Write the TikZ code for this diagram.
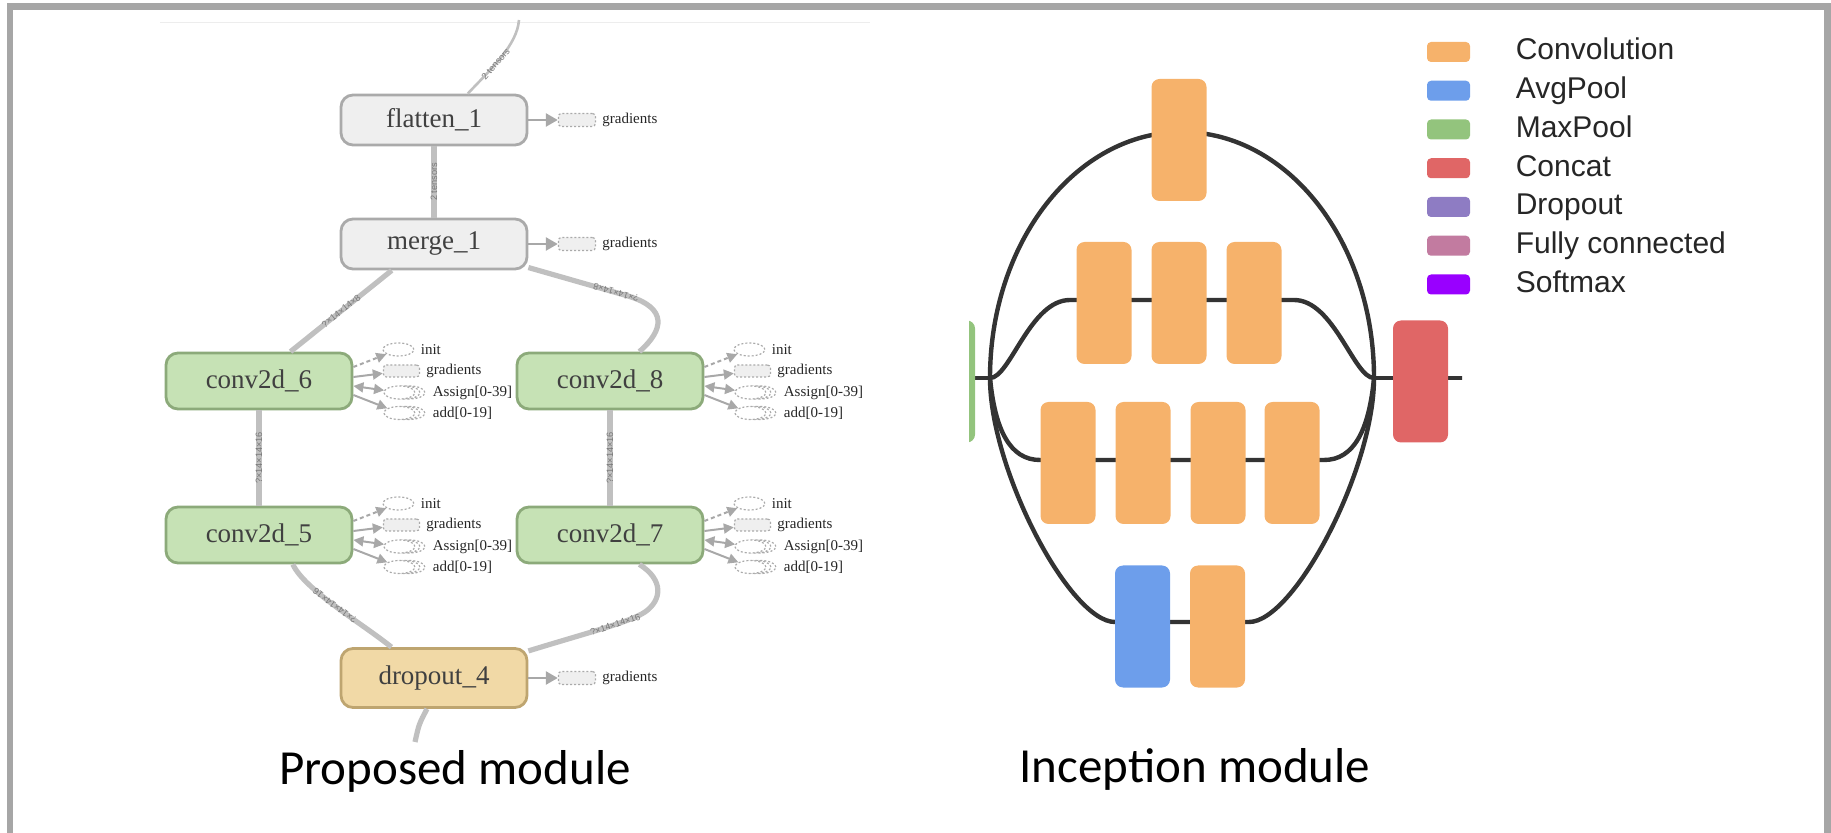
\documentclass[tikz,border=0pt]{standalone}
\usepackage{fontspec}
\setmainfont{Liberation Serif}
\newfontfamily\capfont{Carlito}
\newfontfamily\legfont{Liberation Sans}
\usetikzlibrary{arrows.meta,shapes.geometric}

\definecolor{framegray}{RGB}{166,166,166}
\definecolor{edgegray}{RGB}{192,192,192}
\definecolor{labgray}{RGB}{120,120,120}
\definecolor{arrgray}{RGB}{168,168,168}
\definecolor{opfill}{RGB}{239,239,239}
\definecolor{opdraw}{RGB}{170,170,170}
\definecolor{convfill}{RGB}{198,226,181}
\definecolor{convdraw}{RGB}{140,170,122}
\definecolor{dropfill}{RGB}{241,217,166}
\definecolor{dropdraw}{RGB}{190,165,112}
\definecolor{ttext}{RGB}{64,64,64}
\definecolor{incconv}{RGB}{246,178,107}
\definecolor{incavg}{RGB}{109,158,235}
\definecolor{incmax}{RGB}{147,196,125}
\definecolor{inccat}{RGB}{224,102,102}
\definecolor{incdrop}{RGB}{142,124,195}
\definecolor{incfc}{RGB}{194,123,160}
\definecolor{incsoft}{RGB}{153,0,255}

\begin{document}
\begin{tikzpicture}[x=0.5pt,y=-0.5pt,
    op/.style={draw=opdraw, fill=opfill, line width=1.4pt, rounded corners=6pt,
        minimum width=93pt, minimum height=25pt, inner sep=0pt, text=ttext,
        font=\fontsize{13.5}{16}\selectfont},
    conv/.style={op, draw=convdraw, fill=convfill, minimum height=28pt},
    drop/.style={op, draw=dropdraw, fill=dropfill, minimum height=29.5pt},
    flow/.style={draw=edgegray, line width=2.6pt},
    elab/.style={font=\legfont\fontsize{4.6}{5}\selectfont, text=labgray,
        inner sep=0pt, sloped, allow upside down},
    gbox/.style={draw=opdraw, fill=opfill, line width=0.6pt, dash pattern=on 1pt off 1pt,
        rounded corners=1.5pt, minimum width=18.5pt, minimum height=6.5pt, inner sep=0pt},
    sideell/.style={ellipse, draw=opdraw, fill=white, line width=0.6pt,
        dash pattern=on 1pt off 1pt, minimum width=15.5pt, minimum height=6.5pt, inner sep=0pt},
    sidearr/.style={draw=arrgray, line width=1pt, -{Triangle[length=5pt,width=5pt]}},
    stext/.style={anchor=west, inner sep=0pt, text=black!85, font=\fontsize{7.5}{9}\selectfont},
    incline/.style={draw=black!80, line width=2.2pt},
    incblock/.style={rounded corners=4pt, minimum width=27.5pt, minimum height=61pt, inner sep=0pt},
    legbox/.style={rounded corners=2pt, minimum width=21.5pt, minimum height=10pt, inner sep=0pt},
    legtext/.style={anchor=base west, inner sep=0pt, text=black!85,
        font=\legfont\fontsize{15}{18}\selectfont},
    capt/.style={anchor=base, inner sep=0pt, font=\capfont\fontsize{24.5}{29}\selectfont}
  ]
  \useasboundingbox (0,0) rectangle (1831,833);
  \clip (0,0) rectangle (1831,833);
  \draw[framegray, line width=3.4pt] (10,6.5) rectangle (1827.5,836.5);

  % graph view
  \draw[black!7, line width=0.5pt] (160,23) -- (870,23);

  \node[op] (f1) at (434,120) {flatten\_1};
  \node[op] (m1) at (434,244) {merge\_1};
  \node[conv] (c6) at (259,381) {conv2d\_6};
  \node[conv] (c8) at (610,381) {conv2d\_8};
  \node[conv] (c5) at (259,535) {conv2d\_5};
  \node[conv] (c7) at (610,535) {conv2d\_7};
  \node[drop] (d4) at (434,678) {dropout\_4};

  \coordinate (gin) at (415,742);
  \coordinate (gout) at (519,20);

  \draw[flow] (gin) .. controls (419,724) .. ([xshift=-3.5pt]d4.south);
  \draw[flow] (d4.144) .. controls (360,622) and (305,590) .. (c5.-41)
      node[elab, pos=.5] {?×14×14×16};
  \draw[flow] (d4.16) .. controls (590,632) and (630,622) .. (645,612)
      node[elab, pos=.6] {?×14×14×16}
      .. controls (662,600) and (664,580) .. (c7.-45);
  \draw[flow] (c5) -- (c6) node[elab, midway] {?×14×14×16};
  \draw[flow] (c7) -- (c8) node[elab, midway] {?×14×14×16};
  \draw[flow] (c6.43) -- (m1.-148) node[elab, midway] {?×14×14×8};
  \draw[flow] (c8.45) .. controls (664,330) and (668,308) .. (628,296) -- (m1.-14)
      node[elab, pos=.12] {?×14×14×8};
  \draw[flow, line width=3pt] (m1) -- (f1) node[elab, midway] {2 tensors};
  \draw[flow, line width=1.3pt] (f1.38) .. controls (492,68) and (517,45) .. (gout)
      node[elab, pos=.4] {2 tensors};

  % gradients only
  \foreach \n in {f1,m1,d4} {
    \node[gbox] (\n-g) at ([xshift=24.25pt]\n.east) {};
    \draw[sidearr, line width=1.3pt, -{Triangle[length=6pt,width=6.5pt]}] (\n.east) -- (\n-g);
    \node[stext] (\n-gt) at ([xshift=3pt]\n-g.east) {gradients};
  }

  % init, gradients, Assign, add
  \foreach \n in {c5,c6,c7,c8} {
    \node[sideell] (\n-i) at ([xshift=22.5pt,yshift=15.75pt]\n.east) {};
    \node[stext] (\n-it) at ([xshift=3pt]\n-i.east) {init};
    \draw[sidearr, dash pattern=on 2pt off 1.5pt] ([yshift=7pt]\n.east) -- (\n-i);

    \node[gbox, minimum width=18pt, minimum height=6pt] (\n-g) at ([xshift=24pt,yshift=5pt]\n.east) {};
    \node[stext] (\n-gt) at ([xshift=3pt]\n-g.east) {gradients};
    \draw[sidearr] ([yshift=2pt]\n.east) -- (\n-g);

    \coordinate (\n-ac) at ([xshift=23pt,yshift=-5.75pt]\n.east);
    \draw[opdraw, fill=white, line width=0.6pt, dash pattern=on 1pt off 1pt]
      ([xshift=5pt]\n-ac) ellipse (7.75pt and 3.25pt)
      ([xshift=2.5pt]\n-ac) ellipse (7.75pt and 3.25pt);
    \node[sideell] (\n-a) at (\n-ac) {};
    \node[stext] (\n-at) at ([xshift=8.5pt]\n-a.east) {Assign[0-39]};
    \draw[sidearr, {Triangle[length=5pt,width=5pt]}-{Triangle[length=5pt,width=5pt]}]
      ([yshift=-2.5pt]\n.east) -- (\n-a);

    \coordinate (\n-dc) at ([xshift=23pt,yshift=-16pt]\n.east);
    \draw[opdraw, fill=white, line width=0.6pt, dash pattern=on 1pt off 1pt]
      ([xshift=5pt]\n-dc) ellipse (7.75pt and 3.25pt)
      ([xshift=2.5pt]\n-dc) ellipse (7.75pt and 3.25pt);
    \node[sideell] (\n-d) at (\n-dc) {};
    \node[stext] (\n-dt) at ([xshift=8.5pt]\n-d.east) {add[0-19]};
    \draw[sidearr] ([yshift=-7pt]\n.east) -- (\n-d);
  }

  \node[capt] (capl) at (455,784) {Proposed module};

  % inception
  \begin{scope}
    \clip (969,40) rectangle (1462,720);
    \coordinate (jl) at (990,378);
    \coordinate (jr) at (1374,378);
    \coordinate (iin) at (940,378);
    \coordinate (iout) at (1480,378);

    \draw[incline] (iin) -- (jl);
    \draw[incline] (jr) -- (iout);
    \draw[incline] (jl) arc[start angle=180, end angle=0, x radius=96pt, y radius=123pt];
    \draw[incline] (jl) .. controls (1010,378) and (1030,300) .. (1070,300) -- (1294,300)
        .. controls (1334,300) and (1354,378) .. (jr);
    \draw[incline] (jl) .. controls (995,430) and (1010,460) .. (1040,460) -- (1324,460)
        .. controls (1354,460) and (1369,430) .. (jr);
    \draw[incline] (jl) .. controls (990,470) and (1070,622) .. (1115,622) -- (1249,622)
        .. controls (1294,622) and (1374,470) .. (jr);

    \node[incblock, fill=incmax] (mx) at (947.5,381.5) {};
    \node[incblock, fill=incconv] (k1) at (1179,140) {};
    \foreach \x [count=\i] in {1104,1179,1254}
      \node[incblock, fill=incconv] (k2\i) at (\x,303) {};
    \foreach \x [count=\i] in {1068,1143,1218,1292}
      \node[incblock, fill=incconv] (k3\i) at (\x,463) {};
    \node[incblock, fill=incavg] (k41) at (1142.5,626.5) {};
    \node[incblock, fill=incconv] (k42) at (1217.5,626.5) {};
    \node[incblock, fill=inccat] (cat) at (1420.5,381.5) {};
  \end{scope}

  % legend
  \foreach \c/\t [count=\i] in {incconv/Convolution, incavg/AvgPool, incmax/MaxPool,
      inccat/Concat, incdrop/Dropout, incfc/Fully connected, incsoft/Softmax} {
    \node[legbox, fill=\c] (lg\i) at (1448.5,{52+38.75*(\i-1)}) {};
    \node[legtext] (lt\i) at ([xshift=22.5pt,yshift=-4pt]lg\i.east) {\t};
  }

  \node[capt] (capr) at (1195,782) {Inception module};
\end{tikzpicture}
\end{document}
